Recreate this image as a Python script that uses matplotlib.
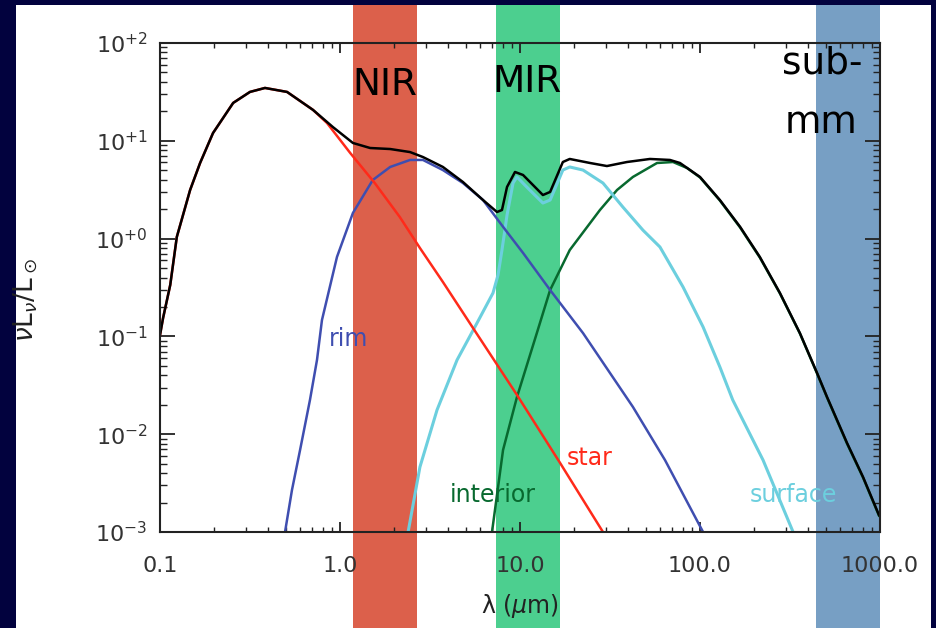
import matplotlib
matplotlib.use("Agg")
import matplotlib.pyplot as plt
import matplotlib.ticker as mticker
from matplotlib.patches import Rectangle
from matplotlib.transforms import blended_transform_factory

# SED components, wavelength in micron, nuL_nu in L_sun
wl_total = [0.1, 0.104, 0.114, 0.124, 0.147, 0.167, 0.197, 0.255, 0.316, 0.383,
            0.508, 0.708, 0.914, 1.18, 1.47, 1.90, 2.45, 2.89, 3.73, 4.82,
            6.23, 7.45, 7.94, 8.47, 9.38, 10.4, 13.4, 14.7, 17.3, 18.9,
            24.5, 30.4, 39.3, 52.7, 68.1, 77.4, 100, 129, 167, 215,
            278, 359, 447, 508, 656, 805, 987]
L_total = [0.103, 0.154, 0.336, 1.04, 3.14, 5.93, 12.0, 24.4, 31.6, 34.7,
           31.6, 20.7, 13.8, 9.5, 8.44, 8.24, 7.67, 6.82, 5.40, 3.79,
           2.48, 1.87, 1.96, 3.37, 4.80, 4.47, 2.79, 3.00, 6.07, 6.52,
           5.93, 5.52, 6.07, 6.52, 6.37, 5.93, 4.27, 2.48, 1.32, 0.649,
           0.278, 0.108, 0.0423, 0.0240, 0.00813, 0.00365, 0.00149]

wl_star = [0.1, 0.104, 0.114, 0.124, 0.147, 0.167, 0.197, 0.255, 0.316, 0.383,
           0.508, 0.708, 0.847, 1.14, 1.56, 2.15, 2.78, 3.73, 5.48, 9.62,
           16.7, 28.9]
L_star = [0.103, 0.154, 0.336, 1.04, 3.14, 5.93, 12.0, 24.4, 31.6, 34.7,
          31.6, 20.7, 15.2, 7.50, 3.70, 1.66, 0.801, 0.360, 0.122, 0.0252,
          0.00508, 0.001]

wl_rim = [0.495, 0.541, 0.600, 0.681, 0.745, 0.794, 0.962, 1.18, 1.52, 1.90,
          2.45, 2.89, 3.73, 4.82, 6.23, 8.05, 10.4, 14.7, 22.4, 42.4,
          63.9, 104]
L_rim = [0.001, 0.00269, 0.00689, 0.0224, 0.0574, 0.147, 0.649, 1.83, 3.97, 5.40,
         6.37, 6.37, 5.02, 3.70, 2.48, 1.32, 0.713, 0.298, 0.108, 0.0190,
         0.00544, 0.001]

wl_surf = [2.39, 2.78, 3.46, 4.47, 5.77, 7.08, 7.55, 7.94, 8.47, 9.15,
           9.62, 10.9, 13.4, 14.7, 17.3, 18.9, 22.4, 28.9, 37.3, 48.2,
           59.9, 80.5, 104, 129, 152, 224, 329]
L_surf = [0.001, 0.00462, 0.0177, 0.0574, 0.137, 0.278, 0.425, 0.764, 1.74, 3.70,
          4.27, 3.37, 2.31, 2.48, 5.02, 5.40, 5.02, 3.70, 2.10, 1.22,
          0.821, 0.320, 0.125, 0.0486, 0.0224, 0.00544, 0.001]

wl_int = [6.99, 8.05, 9.62, 12.4, 14.7, 18.9, 27.8, 34.6, 42.4, 57.7,
          70.8, 84.7, 100, 129, 167, 215, 278, 359, 447, 508,
          656, 805, 987]
L_int = [0.001, 0.00689, 0.0240, 0.108, 0.298, 0.764, 1.96, 3.14, 4.27, 5.93,
         6.07, 5.27, 4.22, 2.45, 1.30, 0.64, 0.275, 0.107, 0.0418, 0.0237,
         0.0080, 0.0036, 0.00147]

# observing windows (micron)
band_names = ["NIR", "MIR", "sub-mm"]
band_lo = [1.18, 7.36, 441]
band_hi = [2.68, 16.7, 1000]
band_colors = ["#dc604b", "#4ccf8f", "#779fc4"]

xtick_vals = [0.1, 1.0, 10.0, 100.0, 1000.0]
xtick_labels = ["0.1", "1.0", "10.0", "100.0", "1000.0"]
ytick_vals = [1e-3, 1e-2, 1e-1, 1e0, 1e1, 1e2]
ytick_labels = [r"$10^{-3}$", r"$10^{-2}$", r"$10^{-1}$", r"$10^{+0}$", r"$10^{+1}$", r"$10^{+2}$"]

navy = "#02023e"

fig = plt.figure(figsize=(9.36, 6.28), dpi=100)
fig.patch.set_facecolor(navy)

# white slide panel
fig.add_artist(Rectangle((16 / 936, 0), 915 / 936, 1 - 5 / 628, transform=fig.transFigure,
                         facecolor="white", edgecolor="none", zorder=-3))

ax = fig.add_axes([160 / 936, 96 / 628, 720 / 936, 489 / 628])
ax.set_facecolor("none")
ax.set_xscale("log")
ax.set_yscale("log")
ax.set_xlim(0.1, 1000)
ax.set_ylim(1e-3, 1e2)

# bands run over the full panel height, x in data units
trans = blended_transform_factory(ax.transData, fig.transFigure)
for lo, hi, c in zip(band_lo, band_hi, band_colors):
    fig.add_artist(Rectangle((lo, 0), hi - lo, 1 - 5 / 628, transform=trans,
                             facecolor=c, edgecolor="none", zorder=-2))

# components
ax.plot(wl_int, L_int, color="#08692f", lw=1.8)
ax.plot(wl_surf, L_surf, color="#6ccfde", lw=2.2)
ax.plot(wl_rim, L_rim, color="#3f4eb0", lw=1.8)
ax.plot(wl_star, L_star, color="#ff2a1a", lw=1.8)
ax.plot(wl_total, L_total, color="black", lw=1.8)

# component labels
ax.text(1.11, 0.094, "rim", color="#3f4eb0", fontsize=17, ha="center", va="center")
ax.text(24.5, 0.0057, "star", color="#ff2a1a", fontsize=17, ha="center", va="center")
ax.text(7.08, 0.0024, "interior", color="#08692f", fontsize=17, ha="center", va="center")
ax.text(329, 0.0024, "surface", color="#6ccfde", fontsize=17, ha="center", va="center")

# band labels
tb = ax.get_xaxis_transform()
ax.text(1.78, 0.894, band_names[0], fontsize=27, ha="center", va="baseline", transform=tb, clip_on=False)
ax.text(10.9, 0.900, band_names[1], fontsize=27, ha="center", va="baseline", transform=tb, clip_on=False)
ax.text(285, 0.937, "sub-", fontsize=27, ha="left", va="baseline", transform=tb, clip_on=False)
ax.text(296, 0.816, "mm", fontsize=27, ha="left", va="baseline", transform=tb, clip_on=False)

# IDL-like axes
for s in ax.spines.values():
    s.set_linewidth(1.5)
    s.set_color("#222222")
ax.xaxis.set_major_locator(mticker.FixedLocator(xtick_vals))
ax.xaxis.set_major_formatter(mticker.FixedFormatter(xtick_labels))
ax.xaxis.set_minor_locator(mticker.LogLocator(base=10, subs=range(2, 10), numticks=20))
ax.xaxis.set_minor_formatter(mticker.NullFormatter())
ax.yaxis.set_major_locator(mticker.FixedLocator(ytick_vals))
ax.yaxis.set_major_formatter(mticker.FixedFormatter(ytick_labels))
ax.yaxis.set_minor_locator(mticker.LogLocator(base=10, subs=range(2, 10), numticks=20))
ax.yaxis.set_minor_formatter(mticker.NullFormatter())

ax.tick_params(which="both", direction="in", top=True, right=True, color="#222222",
               labelcolor="#333333", labelsize=16)
ax.tick_params(axis="x", which="major", length=7, width=1.3, pad=17)
ax.tick_params(axis="x", which="minor", length=3.5, width=1.0)
ax.tick_params(axis="y", which="major", length=10.5, width=1.3, pad=9)
ax.tick_params(axis="y", which="minor", length=5, width=1.0)

ax.set_xlabel("\u03bb (" + r"$\mu$" + "m)", fontsize=17, color="#222222")
ax.xaxis.set_label_coords(0.5, -0.123)
ax.set_ylabel(r"$\nu\mathrm{L}_\nu/\mathrm{L}_\odot$", fontsize=19, color="#222222")
ax.yaxis.set_label_coords(-0.167, 0.474)

fig.savefig("out.png", dpi=100, facecolor=navy)
